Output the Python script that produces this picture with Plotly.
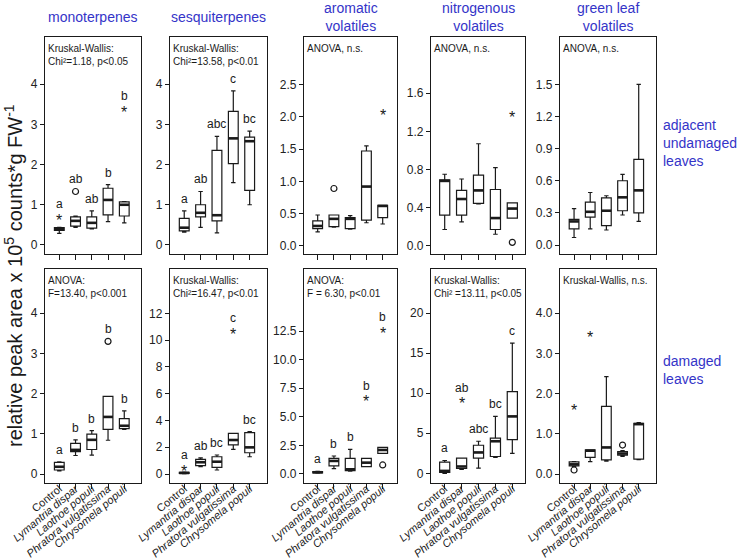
import plotly.graph_objects as go

# ---------------- data ----------------
CATEGORIES = ["Control", "Lymantria dispar", "Laothoe populi",
              "Phratora vulgatissima", "Chrysomela populi"]
TICK_TEXT = ["Control", "<i>Lymantria dispar</i>", "<i>Laothoe populi</i>",
             "<i>Phratora vulgatissima</i>", "<i>Chrysomela populi</i>"]
COLUMN_TITLES = ["monoterpenes", "sesquiterpenes", "aromatic<br>volatiles",
                 "nitrogenous<br>volatiles", "green leaf<br>volatiles"]
ROW_LABELS = ["adjacent<br>undamaged<br>leaves", "damaged<br>leaves"]
Y_TITLE = "relative peak area x 10<sup>5</sup> counts*g FW<sup>-1</sup>"

# box statistics per category: [lower whisker, q1, median, q3, upper whisker]
mono_adj = [[0.29, 0.36, 0.40, 0.43, 0.44], [0.44, 0.47, 0.60, 0.70, 0.72],
            [0.40, 0.42, 0.55, 0.70, 0.85], [0.58, 0.75, 1.12, 1.41, 1.50],
            [0.55, 0.72, 1.00, 1.07, 1.08]]
sesq_adj = [[0.32, 0.35, 0.43, 0.66, 0.85], [0.44, 0.70, 0.80, 1.00, 1.33],
            [0.30, 0.60, 0.74, 2.35, 2.70], [1.55, 2.02, 2.65, 3.32, 3.83],
            [1.00, 1.36, 2.58, 2.68, 2.83]]
arom_adj = [[0.22, 0.27, 0.31, 0.39, 0.48], [0.29, 0.30, 0.42, 0.48, 0.48],
            [0.26, 0.27, 0.42, 0.44, 0.47], [0.36, 0.40, 0.92, 1.47, 1.55],
            [0.34, 0.44, 0.62, 0.63, 0.63]]
nitro_adj = [[0.17, 0.32, 0.68, 0.69, 0.75], [0.25, 0.32, 0.49, 0.58, 0.70],
             [0.44, 0.445, 0.58, 0.74, 1.07], [0.12, 0.17, 0.29, 0.59, 0.82],
             [0.29, 0.29, 0.39, 0.45, 0.45]]
glv_adj = [[0.07, 0.15, 0.22, 0.24, 0.34], [0.15, 0.26, 0.31, 0.40, 0.49],
           [0.14, 0.18, 0.32, 0.44, 0.46], [0.28, 0.32, 0.445, 0.60, 0.66],
           [0.22, 0.30, 0.51, 0.80, 1.50]]
mono_dam = [[0.08, 0.10, 0.18, 0.29, 0.30], [0.46, 0.555, 0.60, 0.76, 0.85],
            [0.47, 0.61, 0.85, 0.99, 1.08], [0.84, 1.11, 1.42, 1.93, 1.93],
            [1.11, 1.13, 1.20, 1.38, 1.57]]
sesq_dam = [[0.03, 0.05, 0.08, 0.12, 0.14], [0.55, 0.62, 0.88, 1.10, 1.20],
            [0.30, 0.50, 0.92, 1.29, 1.42], [1.84, 2.17, 2.54, 3.04, 3.04],
            [1.29, 1.59, 1.99, 3.09, 3.16]]
arom_dam = [[0.08, 0.10, 0.15, 0.20, 0.22], [0.46, 0.70, 1.14, 1.37, 1.57],
            [0.25, 0.29, 0.41, 1.37, 2.16], [0.64, 0.64, 0.99, 1.37, 1.37],
            [1.81, 1.81, 2.10, 2.33, 2.33]]
nitro_dam = [[0.0, 0.1, 0.3, 1.4, 1.6], [0.5, 0.6, 0.85, 1.9, 1.9],
             [0.65, 1.9, 2.6, 3.5, 4.0], [2.0, 2.1, 4.0, 4.4, 7.1],
             [2.5, 4.2, 7.1, 10.2, 16.25]]
glv_dam = [[0.19, 0.20, 0.24, 0.30, 0.31], [0.31, 0.415, 0.58, 0.60, 0.60],
           [0.32, 0.35, 0.66, 1.68, 2.42], [0.44, 0.47, 0.51, 0.56, 0.58],
           [0.36, 0.37, 1.24, 1.26, 1.28]]

# outliers: (category index, value, kind)  kind "*" extreme, "o" outlier
mono_adj_out = [(0, 0.72, "*"), (1, 1.33, "o"), (4, 3.40, "*")]
sesq_adj_out = []
arom_adj_out = [(1, 0.89, "o"), (4, 2.08, "*")]
nitro_adj_out = [(4, 1.39, "*"), (4, 0.035, "o")]
glv_adj_out = []
mono_dam_out = [(3, 3.30, "o")]
sesq_dam_out = [(0, 0.50, "*"), (3, 10.75, "*")]
arom_dam_out = [(3, 6.65, "*"), (4, 12.65, "*"), (4, 0.79, "o")]
nitro_dam_out = [(1, 9.2, "*")]
glv_dam_out = [(0, 0.10, "o"), (0, 1.67, "*"), (1, 3.50, "*"), (3, 0.72, "o")]

# significance letters
mono_adj_let = ["a", "ab", "ab", "b", "b"]
sesq_adj_let = ["a", "ab", "abc", "c", "bc"]
mono_dam_let = ["a", "b", "b", "b", "b"]
sesq_dam_let = ["a", "ab", "bc", "c", "bc"]
arom_dam_let = ["a", "b", "b", "b", "b"]
nitro_dam_let = ["a", "ab", "abc", "bc", "c"]
no_let = None

# test results
STATS_TOP = ["Kruskal-Wallis:<br>Chi²=1.18, p&lt;0.05",
             "Kruskal-Wallis:<br>Chi²=13.58, p&lt;0.01",
             "ANOVA, n.s.", "ANOVA, n.s.", "ANOVA, n.s."]
STATS_BOTTOM = ["ANOVA:<br>F=13.40, p&lt;0.001",
                "Kruskal-Wallis:<br>Chi²=16.47, p&lt;0.01",
                "ANOVA:<br>F = 6.30, p&lt;0.01",
                "Kruskal-Wallis:<br>Chi² =13.11, p&lt;0.05",
                "Kruskal-Wallis, n.s."]

# y tick values per panel
YTICKS_TOP = [[0, 1, 2, 3, 4], [0, 1, 2, 3, 4], [0, 0.5, 1.0, 1.5, 2.0, 2.5],
              [0, 0.4, 0.8, 1.2, 1.6], [0, 0.3, 0.6, 0.9, 1.2, 1.5]]
YTICKS_BOTTOM = [[0, 1, 2, 3, 4], [0, 2, 4, 6, 8, 10, 12],
                 [0, 2.5, 5.0, 7.5, 10.0, 12.5], [0, 5, 10, 15, 20],
                 [0, 1.0, 2.0, 3.0, 4.0]]
YFMT_TOP = ["d", "d", ".1f", ".1f", ".1f"]
YFMT_BOTTOM = ["d", "d", ".1f", "d", ".1f"]

# ---------------- layout constants ----------------
W, H = 739, 559
COL_X = [(45, 141), (170, 267), (304, 397), (431, 525), (560, 656)]
ROW_Y = [(37, 254), (269, 483)]
XRANGES = [[-0.88, 5.03], [-0.87, 5.06], [-0.84, 4.88], [-0.81, 4.75], [-0.87, 5.07]]
YRANGES_TOP = [[-0.224, 5.17], [-0.224, 5.17], [-0.124, 3.235], [-0.087, 2.19], [-0.084, 1.942]]
YRANGES_BOTTOM = [[-0.224, 5.10], [-0.67, 15.31], [-0.79, 17.93], [-1.21, 25.5], [-0.224, 5.10]]
BLUE = "#3434c8"
INK = "#1a1a1a"
FONT = "Liberation Sans, Arial, sans-serif"
BOX_W = 0.6

panels = [
    [(mono_adj, mono_adj_out, mono_adj_let), (sesq_adj, sesq_adj_out, sesq_adj_let),
     (arom_adj, arom_adj_out, no_let), (nitro_adj, nitro_adj_out, no_let),
     (glv_adj, glv_adj_out, no_let)],
    [(mono_dam, mono_dam_out, mono_dam_let), (sesq_dam, sesq_dam_out, sesq_dam_let),
     (arom_dam, arom_dam_out, arom_dam_let), (nitro_dam, nitro_dam_out, nitro_dam_let),
     (glv_dam, glv_dam_out, no_let)],
]

fig = go.Figure()
annotations = []
layout_axes = {}

for r in range(2):
    for c in range(5):
        idx = r * 5 + c + 1
        xa = "x" if idx == 1 else f"x{idx}"
        ya = "y" if idx == 1 else f"y{idx}"
        stats, outs, letters = panels[r][c]
        pos = list(range(len(CATEGORIES)))

        fig.add_trace(go.Box(
            x=pos,
            lowerfence=[s[0] for s in stats], q1=[s[1] for s in stats],
            median=[s[2] for s in stats], q3=[s[3] for s in stats],
            upperfence=[s[4] for s in stats],
            width=BOX_W, whiskerwidth=0.45, boxpoints=False,
            fillcolor="white", line=dict(color=INK, width=1.2),
            xaxis=xa, yaxis=ya, showlegend=False, hoverinfo="skip"))

        # thick median lines
        mx, my = [], []
        for i, s in zip(pos, stats):
            mx += [i - BOX_W / 2, i + BOX_W / 2, None]
            my += [s[2], s[2], None]
        fig.add_trace(go.Scatter(x=mx, y=my, mode="lines",
                                 line=dict(color=INK, width=2.6),
                                 xaxis=xa, yaxis=ya, showlegend=False,
                                 hoverinfo="skip"))

        # outliers: circles as markers, extremes as "*" text glyphs
        pts = [(o[0], o[1]) for o in outs if o[2] == "o"]
        if pts:
            fig.add_trace(go.Scatter(
                x=[p[0] for p in pts], y=[p[1] for p in pts], mode="markers",
                marker=dict(symbol="circle-open", size=6, color=INK,
                            line=dict(color=INK, width=1.2)),
                xaxis=xa, yaxis=ya, showlegend=False, hoverinfo="skip"))
        for o in outs:
            if o[2] == "*":
                annotations.append(dict(
                    x=o[0], y=o[1], xref=xa, yref=ya, text="*", showarrow=False,
                    xanchor="center", yanchor="middle", yshift=-4,
                    font=dict(family=FONT, size=16, color=INK)))

        # letters
        if letters:
            for i, let in zip(pos, letters):
                top = max([stats[i][4]] + [o[1] for o in outs if o[0] == i])
                annotations.append(dict(
                    x=i, y=top, xref=xa, yref=ya, text=let, showarrow=False,
                    xanchor="center", yanchor="bottom", yshift=3,
                    font=dict(family=FONT, size=12, color=INK)))

        # stats text
        annotations.append(dict(
            x=0, y=1, xref=f"{xa} domain", yref=f"{ya} domain",
            text=(STATS_TOP if r == 0 else STATS_BOTTOM)[c], showarrow=False,
            xanchor="left", yanchor="top", align="left", xshift=1, yshift=-4,
            font=dict(family=FONT, size=10, color=INK)))

        x0, x1 = COL_X[c]
        y0, y1 = ROW_Y[r]
        yt = (YTICKS_TOP if r == 0 else YTICKS_BOTTOM)[c]
        fmt = (YFMT_TOP if r == 0 else YFMT_BOTTOM)[c]
        ytext = [format(v, fmt) if fmt != "d" else str(int(v)) for v in yt]
        xname = "xaxis" if idx == 1 else f"xaxis{idx}"
        yname = "yaxis" if idx == 1 else f"yaxis{idx}"
        xdict = dict(
            domain=[x0 / W, x1 / W], anchor=ya, range=XRANGES[c],
            automargin=False, tickmode="array", tickvals=pos,
            showticklabels=(r == 1), tickangle=-40, ticklabelstandoff=-11,
            ticks="outside", ticklen=5, tickwidth=1.2, tickcolor=INK,
            showline=True, mirror=True, linecolor=INK, linewidth=1.3,
            showgrid=False, zeroline=False,
            tickfont=dict(family=FONT, size=11, color=INK))
        if r == 1:
            xdict["ticktext"] = TICK_TEXT
        layout_axes[xname] = xdict
        layout_axes[yname] = dict(
            domain=[1 - y1 / H, 1 - y0 / H], anchor=xa,
            range=(YRANGES_TOP if r == 0 else YRANGES_BOTTOM)[c],
            automargin=False, tickmode="array", tickvals=yt, ticktext=ytext,
            ticks="outside", ticklen=4, tickwidth=1.2, tickcolor=INK,
            showline=True, mirror=True, linecolor=INK, linewidth=1.3,
            showgrid=False, zeroline=False,
            tickfont=dict(family=FONT, size=12, color="#222"))

# column titles
for c, t in enumerate(COLUMN_TITLES):
    x0, x1 = COL_X[c]
    annotations.append(dict(
        x=(x0 + x1) / 2 / W, y=1 - 17 / H, xref="paper", yref="paper",
        text=t, showarrow=False, xanchor="center", yanchor="middle",
        font=dict(family=FONT, size=14, color=BLUE)))

# row labels
for lab, yc in zip(ROW_LABELS, (143, 370)):
    annotations.append(dict(
        x=661 / W, y=1 - yc / H, xref="paper", yref="paper", text=lab,
        showarrow=False, xanchor="left", yanchor="middle", align="left",
        font=dict(family=FONT, size=14, color=BLUE)))

# y-axis title
annotations.append(dict(
    x=13 / W, y=1 - 276 / H, xref="paper", yref="paper", text=Y_TITLE,
    showarrow=False, textangle=-90, xanchor="center", yanchor="middle",
    font=dict(family=FONT, size=20, color=INK)))

fig.update_layout(
    template="none",
    width=W, height=H, margin=dict(l=0, r=0, t=0, b=0, autoexpand=False),
    paper_bgcolor="white", plot_bgcolor="white",
    showlegend=False, annotations=annotations, **layout_axes)

fig.write_html("out.html", config={"displayModeBar": False},
               post_script="document.body.style.margin='0';"
                           "document.body.style.overflow='hidden';")
